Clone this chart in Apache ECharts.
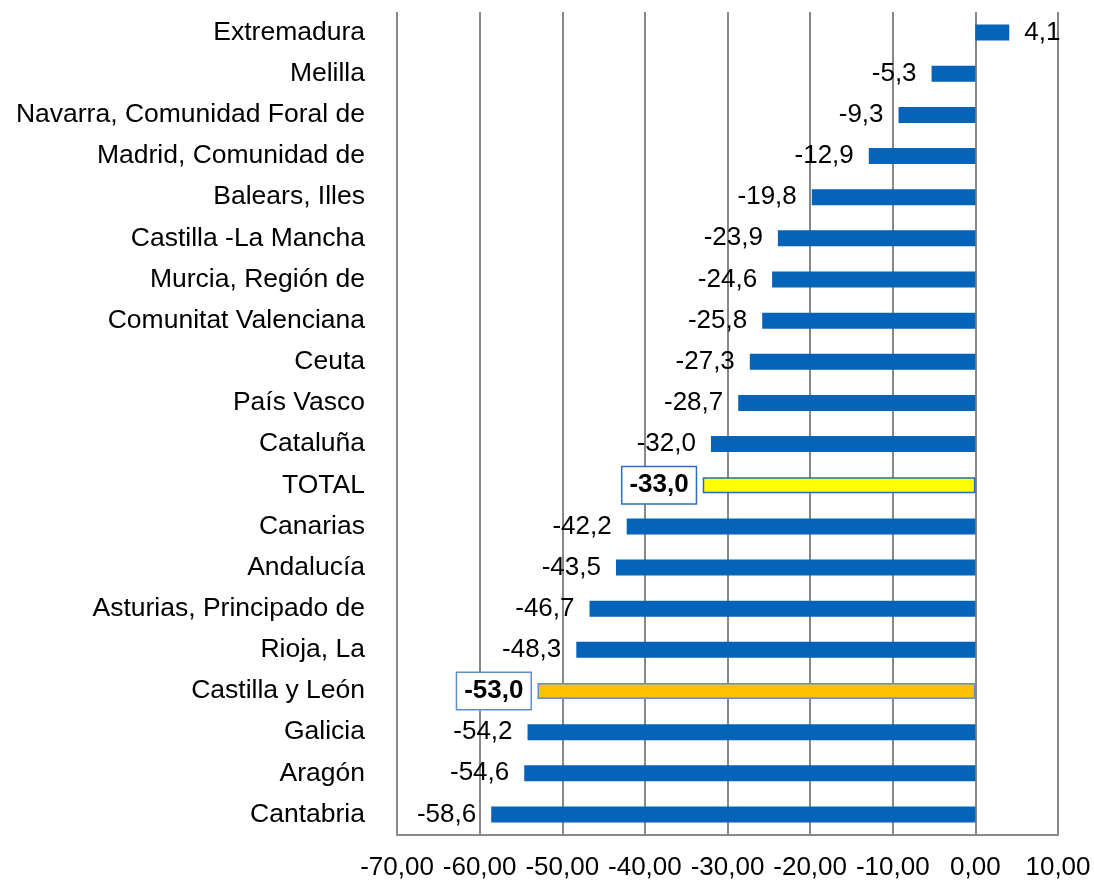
<!DOCTYPE html>
<html>
<head>
  <meta charset="utf-8">
  <title>Variación por comunidades</title>
  <script src="https://cdn.jsdelivr.net/npm/echarts@6/dist/echarts.min.js"></script>
  <style>
    html, body { margin: 0; padding: 0; background: #fff; }
    #main { width: 1094px; height: 881px; }
  </style>
</head>
<body>
<div id="main"></div>
<script>
// datos (de arriba a abajo)
var regiones = ['Extremadura', 'Melilla', 'Navarra, Comunidad Foral de', 'Madrid, Comunidad de',
  'Balears, Illes', 'Castilla -La Mancha', 'Murcia, Región de', 'Comunitat Valenciana', 'Ceuta',
  'País Vasco', 'Cataluña', 'TOTAL', 'Canarias', 'Andalucía', 'Asturias, Principado de',
  'Rioja, La', 'Castilla y León', 'Galicia', 'Aragón', 'Cantabria'];
var valores = [4.1, -5.3, -9.3, -12.9, -19.8, -23.9, -24.6, -25.8, -27.3, -28.7, -32.0, -33.0,
  -42.2, -43.5, -46.7, -48.3, -53.0, -54.2, -54.6, -58.6];

var fuente = 'Liberation Sans, Arial';
var fmt = function (v) { return v.toFixed(1).replace('.', ','); };

var datos = valores.map(function (v, i) {
  var item = {
    value: v,
    label: { position: v < 0 ? 'left' : 'right' }
  };
  if (regiones[i] === 'TOTAL' || regiones[i] === 'Castilla y León') {
    var total = regiones[i] === 'TOTAL';
    item.itemStyle = {
      color: total ? '#ffff00' : '#ffc000',
      borderColor: total ? '#1f6fc0' : '#5b8fd0',
      borderWidth: 1.5
    };
    item.label = {
      position: 'left',
      distance: 7,
      fontWeight: 'bold',
      backgroundColor: '#fff',
      borderColor: total ? '#2e6fbd' : '#5b8fd0',
      borderWidth: 1.5,
      padding: [6, 7, 4, 7]
    };
  }
  return item;
});

var myChart = echarts.init(document.getElementById('main'));
var option = {
  animation: false,
  grid: { left: 397, right: 36, top: 12, bottom: 46, containLabel: false },
  xAxis: {
    type: 'value',
    min: -70,
    max: 10,
    interval: 10,
    axisLine: { show: true, onZero: false, lineStyle: { color: '#888', width: 2 } },
    axisTick: { show: false },
    axisLabel: {
      color: '#000', fontSize: 26, fontFamily: fuente, margin: 20,
      formatter: function (v) { return v.toFixed(2).replace('.', ','); }
    },
    splitLine: { show: true, lineStyle: { color: '#888', width: 2 } }
  },
  yAxis: {
    type: 'category',
    inverse: true,
    data: regiones,
    axisLine: { show: false },
    axisTick: { show: false },
    axisLabel: { color: '#000', fontSize: 26.5, fontFamily: fuente, margin: 32 }
  },
  series: [{
    type: 'bar',
    data: datos,
    barWidth: 16,
    itemStyle: { color: '#0563b8' },
    label: {
      show: true,
      distance: 15,
      color: '#000',
      fontSize: 26,
      fontFamily: fuente,
      formatter: function (p) { return fmt(p.value); }
    }
  }]
};
myChart.setOption(option);
</script>
</body>
</html>
